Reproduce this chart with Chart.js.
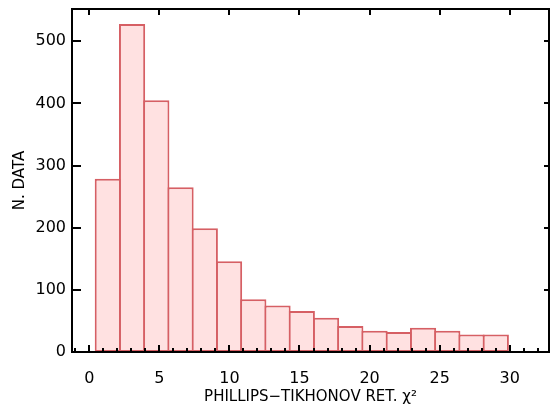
<!DOCTYPE html>
<html>
<head>
<meta charset="utf-8">
<script src="https://cdn.jsdelivr.net/npm/chart.js@4"></script>
<style>
    html, body { margin: 0; padding: 0; background: #fff; }
    #wrap { width: 550px; height: 408px; }
</style>
</head>
<body>
<div id="wrap"><canvas id="grafico" width="550" height="408"></canvas></div>
<script>
// bordes de los bins (chi^2)
const binInicio = 0.46;
const binAncho = 1.73;
const cuentas = [279, 528, 405, 265, 199, 146, 85, 75, 66, 55, 42, 34, 32, 39, 34, 28, 28];
const ticksX = [0, 5, 10, 15, 20, 25, 30];
const ticksY = [0, 100, 200, 300, 400, 500];

const centros = cuentas.map((c, i) => binInicio + binAncho * (i + 0.5));
const puntos = cuentas.map((c, i) => ({ x: centros[i], y: c }));

const FUENTE = "'DejaVu Sans', sans-serif";

// ejes tipo IDL: caja negra con ticks hacia dentro
const ejesCaja = {
    id: 'ejesCaja',
    afterDatasetsDraw(chart) {
        const { ctx, chartArea: a, scales } = chart;
        const sx = scales.x, sy = scales.y;
        ctx.save();
        ctx.strokeStyle = '#000';
        ctx.lineWidth = 2;
        ctx.beginPath();
        ctx.rect(a.left, a.top, a.right - a.left, a.bottom - a.top);
        ctx.stroke();

        ctx.beginPath();
        ticksX.forEach(v => {
            const px = Math.round(sx.getPixelForValue(v));
            ctx.moveTo(px, a.bottom); ctx.lineTo(px, a.bottom - 7);
            ctx.moveTo(px, a.top);    ctx.lineTo(px, a.top + 6);
        });
        for (let v = Math.ceil(sx.min); v <= sx.max; v++) {
            if (v % 5 === 0) continue;
            const px = Math.round(sx.getPixelForValue(v));
            ctx.moveTo(px, a.bottom); ctx.lineTo(px, a.bottom - 4);
        }
        ticksY.forEach(v => {
            const py = Math.round(sy.getPixelForValue(v));
            ctx.moveTo(a.left, py);  ctx.lineTo(a.left + 9, py);
            ctx.moveTo(a.right, py); ctx.lineTo(a.right - 5, py);
        });
        ctx.stroke();
        ctx.restore();
    }
};

new Chart(document.getElementById('grafico'), {
    type: 'bar',
    data: {
        datasets: [{
            data: puntos,
            backgroundColor: '#ffe1e1',
            borderColor: '#d65f64',
            borderWidth: 2,
            borderSkipped: false,
            barPercentage: 1.08,
            categoryPercentage: 1
        }]
    },
    options: {
        responsive: false,
        animation: false,
        layout: { padding: { top: 9, right: 1, left: 0, bottom: 0 } },
        plugins: { legend: { display: false }, tooltip: { enabled: false } },
        scales: {
            x: {
                type: 'linear',
                min: -1.23,
                max: 32.8,
                offset: false,
                grid: { display: false, drawTicks: false },
                border: { display: false },
                afterFit: s => { s.height = 56; s.paddingLeft = 0; s.paddingRight = 0; },
                afterBuildTicks: s => { s.ticks = ticksX.map(v => ({ value: v })); },
                ticks: {
                    padding: 17,
                    color: '#000',
                    maxRotation: 0,
                    font: { family: FUENTE, size: 16 }
                },
                title: {
                    display: true,
                    text: 'PHILLIPS\u2212TIKHONOV RET. \u03c7\u00b2',
                    color: '#000',
                    padding: { top: 2, bottom: 2 },
                    font: { family: FUENTE, size: 15 }
                }
            },
            y: {
                min: 0,
                max: 552,
                grid: { display: false, drawTicks: false },
                border: { display: false },
                afterFit: s => { s.width = 72; s.paddingTop = 0; s.paddingBottom = 0; },
                afterBuildTicks: s => { s.ticks = ticksY.map(v => ({ value: v })); },
                ticks: {
                    padding: 6,
                    color: '#000',
                    font: { family: FUENTE, size: 16 }
                },
                title: {
                    display: true,
                    text: 'N. DATA',
                    color: '#000',
                    padding: { top: 11, bottom: 11 },
                    font: { family: FUENTE, size: 15 }
                }
            }
        }
    },
    plugins: [ejesCaja]
});
</script>
</body>
</html>
